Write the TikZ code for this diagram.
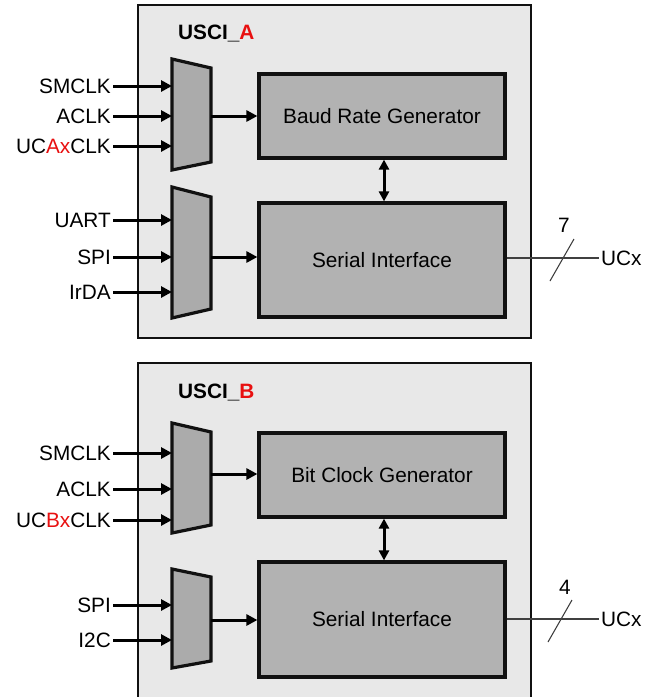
\documentclass[tikz,border=0pt]{standalone}
\usepackage{fontspec}
\setmainfont{Liberation Sans}
\usetikzlibrary{arrows.meta}
\definecolor{panel}{HTML}{E8E8E8}
\definecolor{blockgray}{HTML}{B2B2B2}
\definecolor{muxgray}{HTML}{ABABAB}
\definecolor{edge}{HTML}{111111}
\definecolor{hl}{HTML}{E81010}
\tikzset{
  panelbox/.style={draw=edge, line width=2.5pt, fill=panel},
  block/.style={draw=edge, line width=3.2pt, fill=blockgray, minimum width=246pt, inner sep=0pt},
  muxshape/.style={draw=edge, line width=3.2pt, fill=muxgray, line join=miter},
  sig/.style={anchor=east, inner sep=2pt, font=\fontsize{20.8}{24}\selectfont},
  ttl/.style={anchor=west, inner sep=0pt, font=\fontsize{20.8}{24}\selectfont\bfseries},
  btext/.style={font=\fontsize{20.8}{24}\selectfont},
  arr/.style={line width=3pt, -{Triangle[length=11pt,width=11pt]}},
  darr/.style={line width=3pt, {Triangle[length=10pt,width=10pt]}-{Triangle[length=10pt,width=10pt]}},
  bus/.style={draw=black!75, line width=1.1pt},
}
\begin{document}
\begin{tikzpicture}[x=1pt,y=-1pt]
\useasboundingbox (0,0) rectangle (648,697);
\clip (0,0) rectangle (648,697);

% ---------------- USCI_A ----------------
\draw[panelbox] (138,5) rectangle (531,338);
\node[ttl] (ta) at (178,34) {USCI\_\textcolor{hl}{A}};

% clock source multiplexer
\draw[muxshape] (172,59) -- (211,68) -- (211,162) -- (172,170) -- cycle;
\coordinate (ma1) at (172,86);
\coordinate (ma2) at (172,116);
\coordinate (ma3) at (172,146);
\coordinate (mao) at (211,116);
\node[sig] (la1) at (113,86) {SMCLK};
\node[sig] (la2) at (113,116) {ACLK};
\node[sig] (la3) at (113,146) {UC\textcolor{hl}{Ax}CLK};
\draw[arr] (la1.east) -- (ma1);
\draw[arr] (la2.east) -- (ma2);
\draw[arr] (la3.east) -- (ma3);

% mode multiplexer
\draw[muxshape] (172,187) -- (211,197) -- (211,309) -- (172,318) -- cycle;
\coordinate (na1) at (172,220);
\coordinate (na2) at (172,257);
\coordinate (na3) at (172,292);
\coordinate (nao) at (211,257);
\node[sig] (ka1) at (113,220) {UART};
\node[sig] (ka2) at (113,257) {SPI};
\node[sig] (ka3) at (113,292) {IrDA};
\draw[arr] (ka1.east) -- (na1);
\draw[arr] (ka2.east) -- (na2);
\draw[arr] (ka3.east) -- (na3);

\node[block, minimum height=84pt] (brg) at (382,116) {};
\node[btext] at (brg.center) {Baud Rate Generator};
\node[block, minimum height=114pt] (sia) at (382,260) {};
\node[btext] at (sia.center) {Serial Interface};

\draw[arr] (mao) -- (brg.west |- mao);
\draw[arr] (nao) -- (sia.west |- nao);
\draw[darr] ([xshift=2pt]brg.south) -- ([xshift=2pt]sia.north);

\node[btext, anchor=west, inner sep=2pt] (ucxa) at (599,258) {UCx};
\draw[bus] (sia.east |- ucxa.west) -- (ucxa.west);
\coordinate (sa1) at (550,281);
\coordinate (sa2) at (574,239);
\draw[bus] (sa1) -- (sa2);
\node[btext] (wa) at (564,225) {7};

% ---------------- USCI_B ----------------
\draw[panelbox] (138,363) rectangle (531,720);
\node[ttl] (tb) at (178,393) {USCI\_\textcolor{hl}{B}};

% clock source multiplexer
\draw[muxshape] (172,423) -- (211,432) -- (211,525) -- (172,533) -- cycle;
\coordinate (mb1) at (172,453);
\coordinate (mb2) at (172,489);
\coordinate (mb3) at (172,520);
\coordinate (mbo) at (211,474);
\node[sig] (lb1) at (113,453) {SMCLK};
\node[sig] (lb2) at (113,489) {ACLK};
\node[sig] (lb3) at (113,520) {UC\textcolor{hl}{Bx}CLK};
\draw[arr] (lb1.east) -- (mb1);
\draw[arr] (lb2.east) -- (mb2);
\draw[arr] (lb3.east) -- (mb3);

% mode multiplexer
\draw[muxshape] (172,569) -- (211,577) -- (211,661) -- (172,668) -- cycle;
\coordinate (nb1) at (172,605);
\coordinate (nb2) at (172,640);
\coordinate (nbo) at (211,620);
\node[sig] (kb1) at (113,605) {SPI};
\node[sig] (kb2) at (113,640) {I2C};
\draw[arr] (kb1.east) -- (nb1);
\draw[arr] (kb2.east) -- (nb2);

\node[block, minimum height=84pt] (bcg) at (382,475) {};
\node[btext] at (bcg.center) {Bit Clock Generator};
\node[block, minimum height=115pt] (sib) at (382,619.5) {};
\node[btext] at (sib.center) {Serial Interface};

\draw[arr] (mbo) -- (bcg.west |- mbo);
\draw[arr] (nbo) -- (sib.west |- nbo);
\draw[darr] ([xshift=2pt]bcg.south) -- ([xshift=2pt]sib.north);

\node[btext, anchor=west, inner sep=2pt] (ucxb) at (599,619) {UCx};
\draw[bus] (sib.east |- ucxb.west) -- (ucxb.west);
\coordinate (sb1) at (548,642);
\coordinate (sb2) at (572,600);
\draw[bus] (sb1) -- (sb2);
\node[btext] (wb) at (565,587) {4};
\end{tikzpicture}
\end{document}
